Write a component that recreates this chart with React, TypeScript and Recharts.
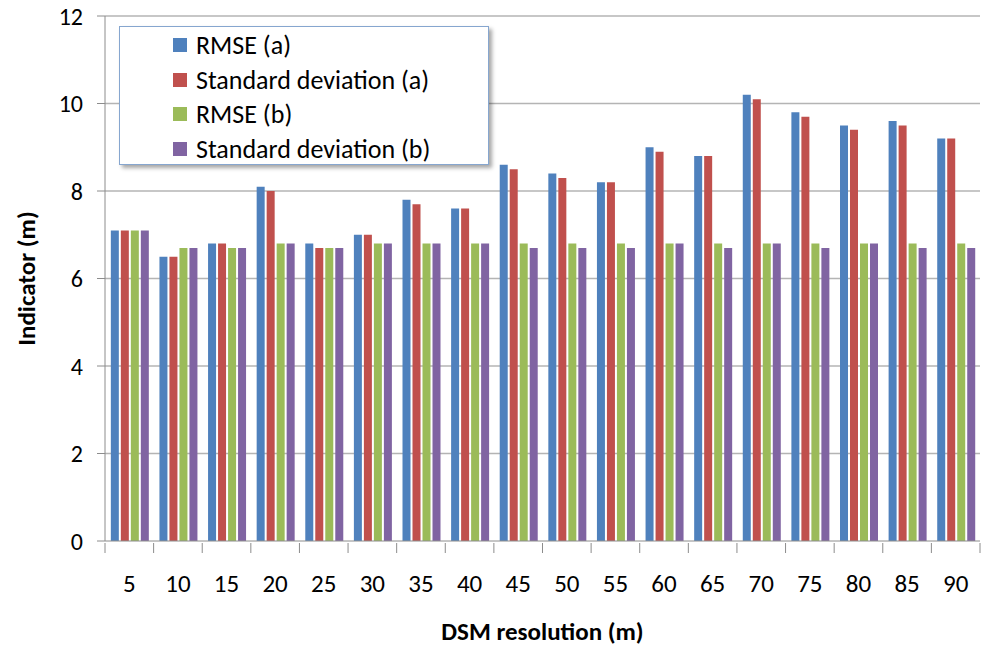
import React from "react"
import { Bar, BarChart, CartesianGrid, XAxis, YAxis } from "recharts"

const resolutions = ["5", "10", "15", "20", "25", "30", "35", "40", "45", "50", "55", "60", "65", "70", "75", "80", "85", "90"]
const rmseA = [7.1, 6.5, 6.8, 8.1, 6.8, 7.0, 7.8, 7.6, 8.6, 8.4, 8.2, 9.0, 8.8, 10.2, 9.8, 9.5, 9.6, 9.2]
const sdA = [7.1, 6.5, 6.8, 8.0, 6.7, 7.0, 7.7, 7.6, 8.5, 8.3, 8.2, 8.9, 8.8, 10.1, 9.7, 9.4, 9.5, 9.2]
const rmseB = [7.1, 6.7, 6.7, 6.8, 6.7, 6.8, 6.8, 6.8, 6.8, 6.8, 6.8, 6.8, 6.8, 6.8, 6.8, 6.8, 6.8, 6.8]
const sdB = [7.1, 6.7, 6.7, 6.8, 6.7, 6.8, 6.8, 6.8, 6.7, 6.7, 6.7, 6.8, 6.7, 6.8, 6.7, 6.8, 6.7, 6.7]
const yTicks = [0, 2, 4, 6, 8, 10, 12]

const series = [
  { key: "rmseA", name: "RMSE (a)", color: "#4F81BD" },
  { key: "sdA", name: "Standard deviation (a)", color: "#C0504D" },
  { key: "rmseB", name: "RMSE (b)", color: "#9BBB59" },
  { key: "sdB", name: "Standard deviation (b)", color: "#8064A2" },
]

const data = resolutions.map((r, i) => ({
  res: r,
  rmseA: rmseA[i],
  sdA: sdA[i],
  rmseB: rmseB[i],
  sdB: sdB[i],
}))

const FONT = "Carlito, Lato, 'Liberation Sans', sans-serif"

function XTick(props: any) {
  const { x, y, payload, index, width, visibleTicksCount } = props
  const band = width / visibleTicksCount
  return (
    <g>
      <line x1={x - band / 2} x2={x - band / 2} y1={y} y2={y + 10} stroke="#8c8c8c" />
      {index === visibleTicksCount - 1 && (
        <line x1={x + band / 2} x2={x + band / 2} y1={y} y2={y + 10} stroke="#8c8c8c" />
      )}
      <text x={x} y={y + 43} textAnchor="middle" dominantBaseline="middle" fontSize={25} fill="#000" fontFamily={FONT}>
        {payload.value}
      </text>
    </g>
  )
}

function LegendBox() {
  return (
    <div
      style={{
        position: "absolute",
        left: 119,
        top: 26,
        width: 370,
        height: 139,
        boxSizing: "border-box",
        border: "1px solid #86a6cf",
        background: "#fff",
        boxShadow: "3px 3px 4px rgba(0,0,0,0.35)",
        paddingTop: 1,
        fontFamily: FONT,
      }}
    >
      {series.map((s) => (
        <div key={s.key} style={{ display: "flex", alignItems: "center", height: 34.5, paddingLeft: 53 }}>
          <span style={{ width: 14, height: 14, background: s.color, display: "inline-block", marginRight: 9 }} />
          <span style={{ fontSize: 26, color: "#000", whiteSpace: "nowrap" }}>{s.name}</span>
        </div>
      ))}
    </div>
  )
}

export default function App() {
  return (
    <div style={{ position: "fixed", left: 0, top: 0, width: 1000, height: 646, background: "#fff" }}>
      <BarChart
        width={1000}
        height={646}
        data={data}
        margin={{ top: 16, right: 20, left: 0, bottom: 0 }}
        barCategoryGap="12%"
        barGap={2}
      >
        <CartesianGrid vertical={false} stroke="#b4b4b4" strokeWidth={1.5} horizontalValues={[2, 4, 6, 8, 10, 12]} />
        <XAxis
          dataKey="res"
          height={105}
          tickLine={false}
          tickSize={0}
          axisLine={{ stroke: "#8c8c8c" }}
          tick={<XTick />}
          interval={0}
          label={{
            value: "DSM resolution (m)",
            position: "insideBottom",
            offset: 6,
            fontSize: 25,
            fontWeight: "bold",
            fill: "#000",
            fontFamily: FONT,
          }}
        />
        <YAxis
          width={105}
          domain={[0, 12]}
          ticks={yTicks}
          interval={0}
          tickSize={8}
          tickMargin={14}
          tickLine={{ stroke: "#8c8c8c" }}
          axisLine={{ stroke: "#8c8c8c" }}
          tick={{ fontSize: 24, fill: "#000", fontFamily: FONT }}
          label={{
            value: "Indicator (m)",
            angle: -90,
            position: "insideLeft",
            offset: 26,
            style: { textAnchor: "middle" },
            fontSize: 25,
            fontWeight: "bold",
            fill: "#000",
            fontFamily: FONT,
          }}
        />
        {series.map((s) => (
          <Bar key={s.key} dataKey={s.key} name={s.name} fill={s.color} isAnimationActive={false} />
        ))}
      </BarChart>
      <LegendBox />
    </div>
  )
}
